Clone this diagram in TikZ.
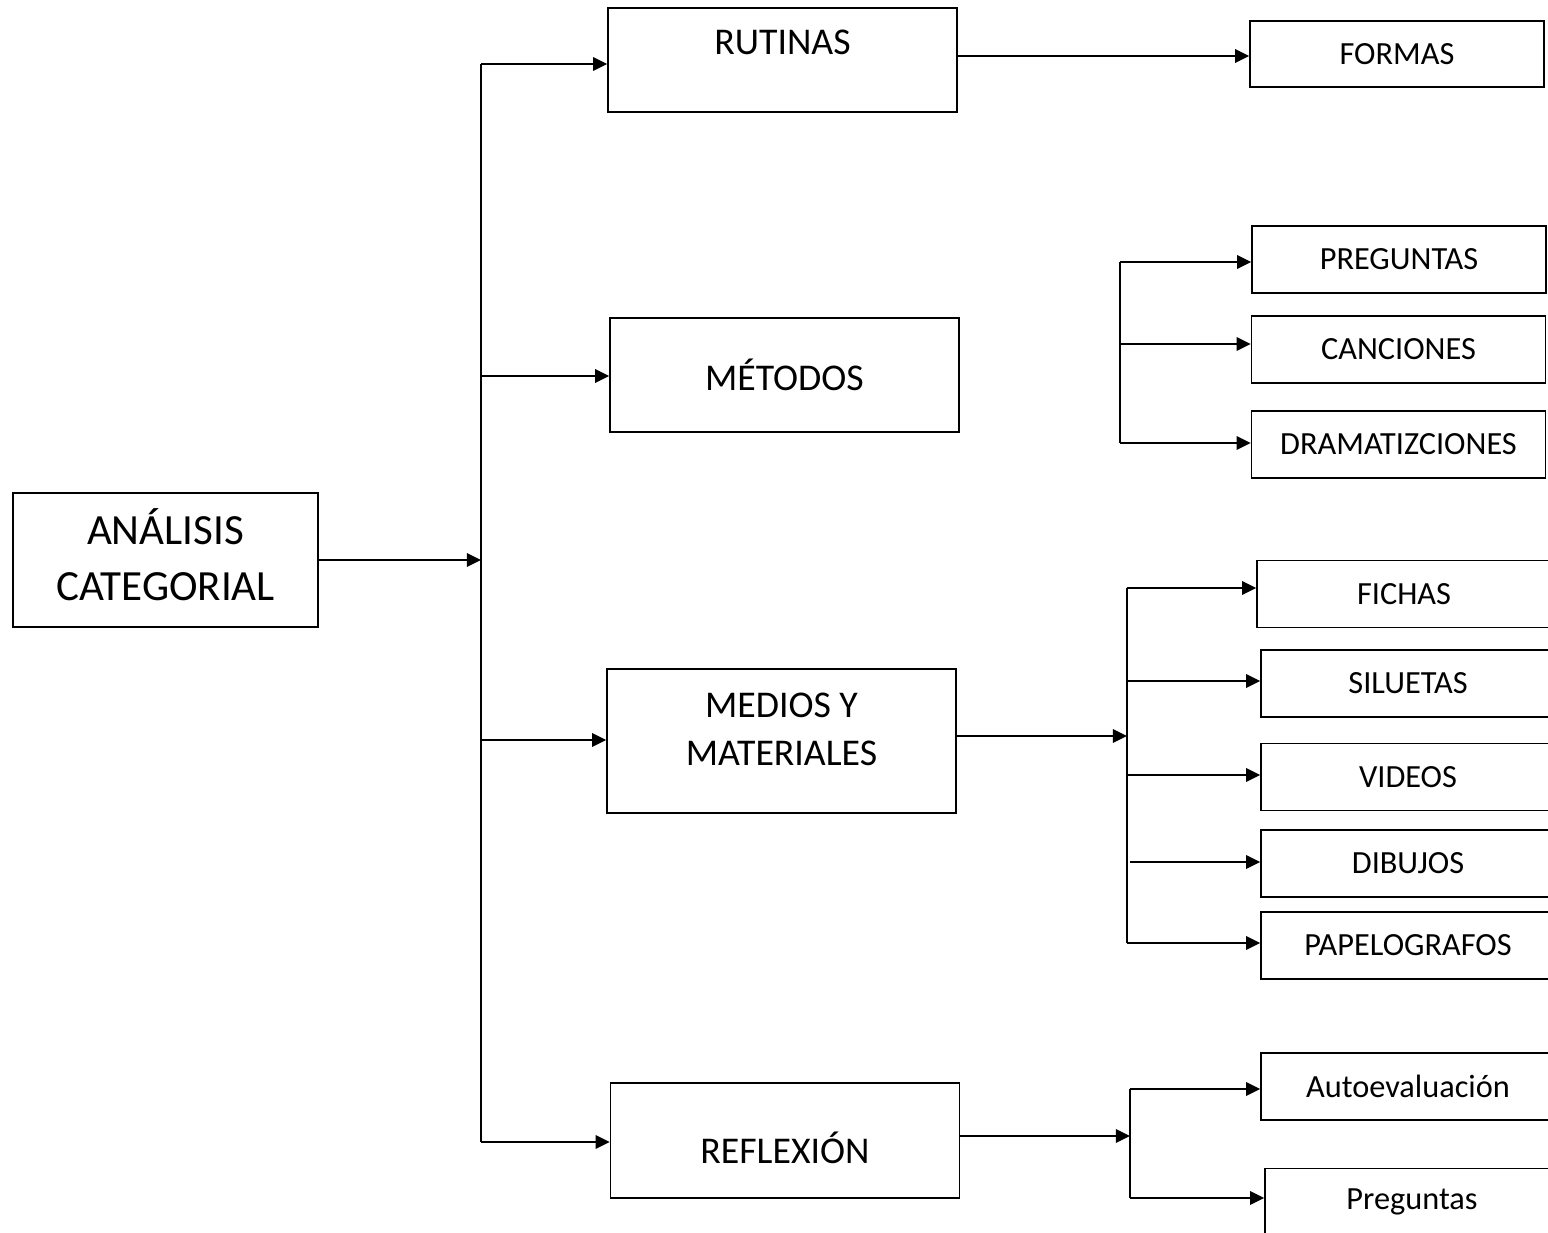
\documentclass[tikz,border=0pt]{standalone}
\usepackage{fontspec}
\setmainfont{Carlito}
\usetikzlibrary{arrows.meta}
\tikzstyle{rootbox} = [rectangle, draw=black, line width=0.9pt, minimum width=6.1cm, minimum height=2.68cm]
\tikzstyle{roottext} = [align=center, font=\fontsize{24.5}{32}\selectfont]
\tikzstyle{catbox} = [rectangle, draw=black, line width=0.9pt, minimum width=6.98cm]
\tikzstyle{cattext} = [align=center, font=\fontsize{21.5}{27.3}\selectfont]
\tikzstyle{itembox} = [rectangle, draw=black, line width=0.9pt, minimum width=5.88cm, minimum height=1.34cm, font=\fontsize{18.4}{22}\selectfont]
\tikzstyle{arrow} = [line width=1.4pt, -{Triangle[length=8pt,width=7.5pt]}]
\tikzstyle{bus} = [line width=1.4pt]

\begin{document}
\begin{tikzpicture}[x=0.02cm, y=-0.02cm]
  \useasboundingbox (0,0) rectangle (1548,1233);
  % main categories
  \node (ana) [rootbox] at (165.5,560) {};
  \node (anatext) [roottext] at (165.5,555) {ANÁLISIS\\CATEGORIAL};
  \node (rut) [catbox, minimum height=2.08cm] at (782.5,60) {};
  \node (ruttext) [cattext] at (782.5,42) {RUTINAS};
  \node (met) [catbox, minimum height=2.28cm] at (784.5,375) {};
  \node (mettext) [cattext] at (784.5,375) {MÉTODOS};
  \node (med) [catbox, minimum height=2.88cm] at (781.5,741) {};
  \node (medtext) [cattext] at (781.5,729) {MEDIOS Y\\MATERIALES};
  \node (ref) [catbox, minimum height=2.3cm] at (785,1140.5) {};
  \node (reftext) [cattext] at (785,1147.5) {REFLEXIÓN};

  % sub items
  \node (formas) [itembox, minimum height=1.32cm] at (1397,54) {FORMAS};
  \node (preg) [itembox] at (1399,259.5) {PREGUNTAS};
  \node (canc) [itembox] at (1398.5,349.5) {CANCIONES};
  \node (dram) [itembox] at (1398.5,444.5) {DRAMATIZCIONES};
  \node (fichas) [itembox] at (1404,594) {FICHAS};
  \node (silu) [itembox] at (1408,683.5) {SILUETAS};
  \node (vid) [itembox] at (1408,777) {VIDEOS};
  \node (dib) [itembox] at (1408,863.5) {DIBUJOS};
  \node (papel) [itembox] at (1408,945.5) {PAPELOGRAFOS};
  \node (auto) [itembox] at (1408,1086.5) {Autoevaluación};
  \node (preg2) [itembox] at (1412,1202) {Preguntas};

  % main trunk
  \coordinate (t1) at (481,64);
  \coordinate (t2) at (481,376);
  \coordinate (tj) at (481,560);
  \coordinate (t3) at (481,740);
  \coordinate (t4) at (481,1142);
  \draw [bus] (t1) -- (t4);
  \draw [arrow] (ana.east |- tj) -- (tj);
  \draw [arrow] (t1) -- (t1 -| rut.west);
  \draw [arrow] (t2) -- (t2 -| met.west);
  \draw [arrow] (t3) -- (t3 -| med.west);
  \draw [arrow] (t4) -- (t4 -| ref.west);

  \coordinate (f1) at (957,56);
  \draw [arrow] (f1) -- (f1 -| formas.west);

  % metodos
  \coordinate (m1) at (1120,262);
  \coordinate (m2) at (1120,344);
  \coordinate (m3) at (1120,443);
  \draw [bus] (m1) -- (m3);
  \draw [arrow] (m1) -- (m1 -| preg.west);
  \draw [arrow] (m2) -- (m2 -| canc.west);
  \draw [arrow] (m3) -- (m3 -| dram.west);

  % medios y materiales
  \coordinate (mj) at (1127,736);
  \coordinate (d1) at (1127,588);
  \coordinate (d2) at (1127,681);
  \coordinate (d3) at (1127,775);
  \coordinate (d4) at (1130,862);
  \coordinate (d5) at (1127,943);
  \draw [bus] (d1) -- (d5);
  \draw [arrow] (med.east |- mj) -- (mj);
  \draw [arrow] (d1) -- (d1 -| fichas.west);
  \draw [arrow] (d2) -- (d2 -| silu.west);
  \draw [arrow] (d3) -- (d3 -| vid.west);
  \draw [arrow] (d4) -- (d4 -| dib.west);
  \draw [arrow] (d5) -- (d5 -| papel.west);

  % reflexion
  \coordinate (rj) at (1130,1136);
  \coordinate (r1) at (1130,1089);
  \coordinate (r2) at (1130,1198);
  \draw [bus] (r1) -- (r2);
  \draw [arrow] (ref.east |- rj) -- (rj);
  \draw [arrow] (r1) -- (r1 -| auto.west);
  \draw [arrow] (r2) -- (r2 -| preg2.west);
\end{tikzpicture}
\end{document}
